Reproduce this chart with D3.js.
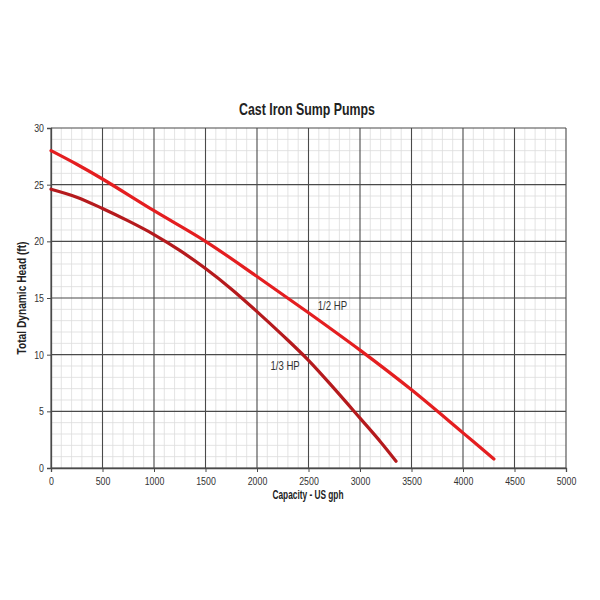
<!DOCTYPE html>
<html><head><meta charset="utf-8">
<script src="https://cdn.jsdelivr.net/npm/d3@7"></script>
<style>body{margin:0;background:#fff}svg{display:block}</style>
</head><body>
<script>
const title = "Cast Iron Sump Pumps";
const xLabel = "Capacity - US gph";
const yLabel = "Total Dynamic Head (ft)";
const xTicks = [0,500,1000,1500,2000,2500,3000,3500,4000,4500,5000];
const yTicks = [0,5,10,15,20,25,30];
const halfHpGph  = [0, 250, 500, 1000, 1500, 2000, 2500, 3000, 3500, 4000, 4300];
const halfHpHead = [28.0, 26.8, 25.5, 22.7, 20.0, 16.9, 13.7, 10.4, 6.9, 3.1, 0.8];
const thirdHpGph  = [0, 250, 500, 750, 1000, 1250, 1500, 1750, 2000, 2250, 2500, 2750, 3000, 3200, 3350];
const thirdHpHead = [24.6, 23.9, 22.9, 21.8, 20.6, 19.2, 17.6, 15.8, 13.8, 11.7, 9.5, 7.0, 4.4, 2.3, 0.6];
const seriesNames = ["1/2 HP", "1/3 HP"];

const font = "'Liberation Sans',Arial,sans-serif";
const W = 600, H = 600;
const m = {left:51, right:34, top:128, bottom:132};
const svg = d3.select("body").append("svg").attr("width",W).attr("height",H);
const x = d3.scaleLinear().domain([0,5000]).range([m.left, W-m.right]);
const y = d3.scaleLinear().domain([0,30]).range([H-m.bottom, m.top]);

function narrow(sel, k){
  sel.each(function(){
    const len = this.getComputedTextLength();
    d3.select(this).attr("textLength", len*k).attr("lengthAdjust","spacingAndGlyphs");
  });
}

const g = svg.append("g");
g.selectAll(".vx").data(d3.range(0,5001,100).filter(d=>d%500)).join("line")
  .attr("x1",d=>x(d)).attr("x2",d=>x(d)).attr("y1",y(0)).attr("y2",y(30))
  .attr("stroke","#dcdcdc").attr("stroke-width",0.8);
g.selectAll(".hy").data(d3.range(0,31,1).filter(d=>d%5)).join("line")
  .attr("y1",d=>y(d)).attr("y2",d=>y(d)).attr("x1",x(0)).attr("x2",x(5000))
  .attr("stroke","#dcdcdc").attr("stroke-width",0.8);
g.selectAll(".mx").data(xTicks).join("line")
  .attr("x1",d=>x(d)).attr("x2",d=>x(d)).attr("y1",y(0)).attr("y2",y(30))
  .attr("stroke","#4a4a4a").attr("stroke-width",1.1);
g.selectAll(".my").data(yTicks).join("line")
  .attr("y1",d=>y(d)).attr("y2",d=>y(d)).attr("x1",x(0)).attr("x2",x(5000))
  .attr("stroke","#4a4a4a").attr("stroke-width",1.1);

const xa = svg.append("g").attr("transform",`translate(0,${y(0)})`)
  .call(d3.axisBottom(x).tickValues(xTicks).tickFormat(d3.format("d")).tickSize(4));
const ya = svg.append("g").attr("transform",`translate(${x(0)},0)`)
  .call(d3.axisLeft(y).tickValues(yTicks).tickSize(4));
[xa,ya].forEach(a=>{
  a.select(".domain").attr("stroke","#4a4a4a").attr("stroke-width",1.3);
  a.selectAll(".tick line").attr("stroke","#4a4a4a");
  a.selectAll("text").attr("font-family",font).attr("font-size",11).attr("fill","#333");
  narrow(a.selectAll("text"), 0.8);
});
xa.selectAll("text").attr("dy","0.95em");

const line = d3.line().x(d=>x(d[0])).y(d=>y(d[1])).curve(d3.curveCatmullRom.alpha(0.5));
const halfData = halfHpGph.map((v,i)=>[v,halfHpHead[i]]);
const thirdData = thirdHpGph.map((v,i)=>[v,thirdHpHead[i]]);
svg.append("path").datum(thirdData).attr("d",line).attr("fill","none")
  .attr("stroke","#b51a1d").attr("stroke-width",3.2).attr("stroke-linecap","round");
svg.append("path").datum(halfData).attr("d",line).attr("fill","none")
  .attr("stroke","#e41e20").attr("stroke-width",3.2).attr("stroke-linecap","round");

const l1 = svg.append("text").attr("x",x(2590)).attr("y",y(13.9)).text(seriesNames[0])
  .attr("font-family",font).attr("font-size",12).attr("fill","#333");
const l2 = svg.append("text").attr("x",x(2130)).attr("y",y(8.65)).text(seriesNames[1])
  .attr("font-family",font).attr("font-size",12).attr("fill","#333");
narrow(l1,0.8); narrow(l2,0.8);

const t = svg.append("text").attr("x",307).attr("y",115).attr("text-anchor","middle").text(title)
  .attr("font-family",font).attr("font-weight","bold").attr("font-size",16.5).attr("fill","#222")
  .attr("textLength",136).attr("lengthAdjust","spacingAndGlyphs");
svg.append("text").attr("x",308).attr("y",499).attr("text-anchor","middle").text(xLabel)
  .attr("font-family",font).attr("font-weight","bold").attr("font-size",12).attr("fill","#222")
  .attr("textLength",71).attr("lengthAdjust","spacingAndGlyphs");
svg.append("text").attr("transform",`translate(26,${(y(0)+y(30))/2}) rotate(-90)`)
  .attr("text-anchor","middle").text(yLabel)
  .attr("font-family",font).attr("font-weight","bold").attr("font-size",12).attr("fill","#222")
  .attr("textLength",113).attr("lengthAdjust","spacingAndGlyphs");
</script>
</body></html>
